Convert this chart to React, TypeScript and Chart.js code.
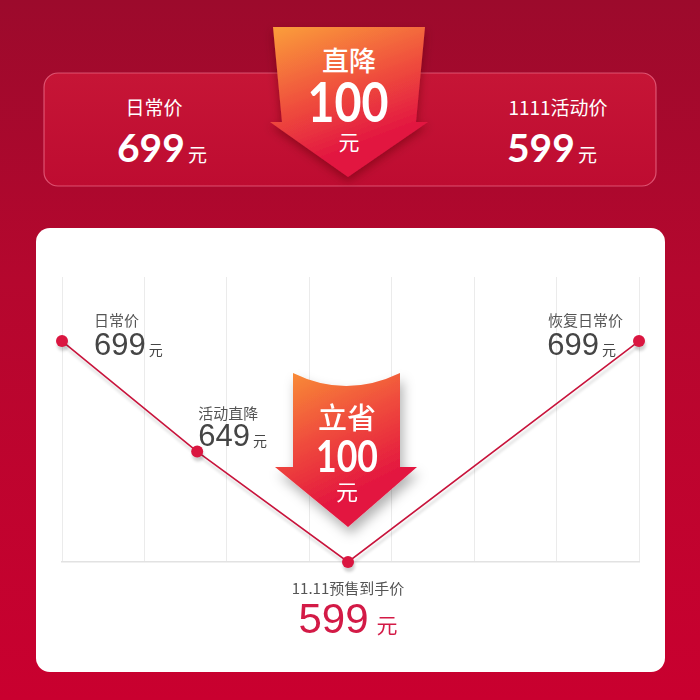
import React, { useEffect, useRef } from 'react';
import { Chart, registerables } from 'chart.js';

Chart.register(...registerables);

// ---- data ----
const stageLabels = ['日常价', '活动直降', '11.11预售到手价', '恢复日常价'];
const stagePrices = [699, 649, 599, 699];
const stagePositions = [0, 1.64, 3.47, 7];
const summaryLabels = ['日常价', '1111活动价'];
const summaryPrices = [699, 599];
const dropLabels = ['直降', '立省'];
const dropAmount = 100;
const unitText = '元';

const CJK = '"Noto Sans CJK SC", "Noto Sans", sans-serif';
const NUM = '"Liberation Sans", Arial, sans-serif';
const BOLDNUM = 'Lato, "Open Sans", sans-serif';

// label placement relative to each point (style, not data)
const labelLayout: any[] = [
  { align: 'left', dx: 32, priceDx: 32, titleDy: -15, priceDy: 14, big: false },
  { align: 'left', dx: 1, priceDx: 1, titleDy: -33, priceDy: -6, big: false },
  { align: 'center', dx: 0, priceDx: 0, titleDy: 32, priceDy: 71, big: true },
  { align: 'right', dx: -16, priceDx: -23, titleDy: -15, priceDy: 14, big: false },
];

const labelPlugin = {
  id: 'stageLabels',
  afterDatasetsDraw(chart: any) {
    const ctx = chart.ctx;
    const meta = chart.getDatasetMeta(0);
    meta.data.forEach((pt: any, i: number) => {
      const L = labelLayout[i];
      const { x, y } = pt.getProps(['x', 'y'], true);
      ctx.save();
      ctx.textBaseline = 'alphabetic';
      ctx.font = `15px ${CJK}`;
      ctx.fillStyle = '#555555';
      ctx.textAlign = L.align;
      ctx.fillText(stageLabels[i], x + L.dx, y + L.titleDy);

      const numFont = L.big ? `42px ${NUM}` : `31px ${NUM}`;
      const unitFont = L.big ? `21px ${CJK}` : `14px ${CJK}`;
      const gap = L.big ? 8 : 3;
      const numStr = String(chart.data.datasets[0].data[i].y);
      ctx.font = numFont;
      const nw = ctx.measureText(numStr).width;
      ctx.font = unitFont;
      const uw = ctx.measureText(unitText).width;
      const total = nw + gap + uw;
      const anchor = x + L.priceDx;
      const left = L.align === 'left' ? anchor : L.align === 'center' ? anchor - total / 2 : anchor - total;
      ctx.textAlign = 'left';
      ctx.fillStyle = L.big ? '#d31a46' : '#454545';
      ctx.font = numFont;
      ctx.fillText(numStr, left, y + L.priceDy);
      ctx.font = unitFont;
      ctx.fillText(unitText, left + nw + gap, y + L.priceDy);
      ctx.restore();
    });
  },
};

const shadowPlugin = {
  id: 'lineShadow',
  beforeDatasetDraw(chart: any) {
    const c = chart.ctx;
    c.save();
    c.shadowColor = 'rgba(0,0,0,0.18)';
    c.shadowBlur = 3;
    c.shadowOffsetX = 1;
    c.shadowOffsetY = 4;
  },
  afterDatasetDraw(chart: any) {
    chart.ctx.restore();
  },
};

function PriceChart() {
  const ref = useRef<HTMLCanvasElement | null>(null);
  useEffect(() => {
    if (!ref.current) return;
    const chart = new Chart(ref.current, {
      type: 'line',
      data: {
        datasets: [
          {
            data: stagePositions.map((x, i) => ({ x, y: stagePrices[i] })),
            borderColor: '#c8143c',
            borderWidth: 1.6,
            pointRadius: 6,
            pointBackgroundColor: '#da1640',
            pointBorderWidth: 0,
            tension: 0,
            clip: false as any,
          } as any,
        ],
      },
      options: {
        animation: false,
        responsive: false,
        maintainAspectRatio: false,
        layout: { padding: { left: 62, right: 61, top: 277, bottom: 138 } },
        plugins: { legend: { display: false }, tooltip: { enabled: false } },
        scales: {
          x: {
            type: 'linear',
            min: 0,
            max: 7,
            ticks: { display: false, stepSize: 1 },
            grid: { color: '#ebebeb', lineWidth: 1, drawTicks: false },
            border: { display: true, color: '#e2e2e2', width: 1.5 },
          },
          y: { display: false, min: 599, max: 728 },
        },
      },
      plugins: [shadowPlugin, labelPlugin],
    });
    return () => chart.destroy();
  }, []);
  return (
    <canvas
      ref={ref}
      width={700}
      height={700}
      style={{ position: 'absolute', left: 0, top: 0, width: 700, height: 700 }}
    />
  );
}

export default function App() {
  return (
    <div style={{ position: 'absolute', left: 0, top: 0, width: 700, height: 700, overflow: 'hidden' }}>
      <svg width={700} height={700} style={{ position: 'absolute', left: 0, top: 0 }}>
        <defs>
          <linearGradient id="bg" x1="0" y1="0" x2="0" y2="1">
            <stop offset="0" stopColor="#9c0a2c" />
            <stop offset="0.4" stopColor="#b5072e" />
            <stop offset="1" stopColor="#c9002f" />
          </linearGradient>
          <linearGradient id="panel" x1="0" y1="0" x2="0" y2="1">
            <stop offset="0" stopColor="#c61536" />
            <stop offset="1" stopColor="#be0c31" />
          </linearGradient>
          <linearGradient id="arrowTop" x1="0.1" y1="0" x2="0.5" y2="1">
            <stop offset="0" stopColor="#fa9a3a" />
            <stop offset="0.45" stopColor="#f0523d" />
            <stop offset="0.85" stopColor="#e21541" />
          </linearGradient>
          <filter id="shadowTop" x="-30%" y="-30%" width="160%" height="160%">
            <feDropShadow dx="0" dy="4" stdDeviation="5" floodColor="#500010" floodOpacity="0.45" />
          </filter>
        </defs>
        <rect x={0} y={0} width={700} height={700} fill="url(#bg)" />
        <rect
          x={44}
          y={73}
          width={612}
          height={113}
          rx={14}
          fill="url(#panel)"
          stroke="rgba(255,140,165,0.55)"
          strokeWidth={1.2}
        />
        <text x={154} y={115} fill="#fff" fontSize={19} textAnchor="middle" style={{ fontFamily: CJK }}>
          {summaryLabels[0]}
        </text>
        <text x={117} y={162} fill="#fff" style={{ fontFamily: BOLDNUM }}>
          <tspan fontSize={39} fontWeight="bold">{summaryPrices[0]}</tspan>
          <tspan fontSize={19} dx={3} style={{ fontFamily: CJK }}>{unitText}</tspan>
        </text>
        <text x={558} y={115} fill="#fff" fontSize={19} textAnchor="middle" style={{ fontFamily: CJK }}>
          {summaryLabels[1]}
        </text>
        <text x={507} y={162} fill="#fff" style={{ fontFamily: BOLDNUM }}>
          <tspan fontSize={39} fontWeight="bold">{summaryPrices[1]}</tspan>
          <tspan fontSize={19} dx={3} style={{ fontFamily: CJK }}>{unitText}</tspan>
        </text>
        <path
          d="M273,27 L425,27 L416,122 L428,122 L348,177 L270,122 L282,122 Z"
          fill="url(#arrowTop)"
          filter="url(#shadowTop)"
        />
        <text x={349} y={71} fill="#fff" fontSize={27} fontWeight={500} textAnchor="middle" style={{ fontFamily: CJK }}>
          {dropLabels[0]}
        </text>
        <text
          x={348}
          y={122}
          fill="#fff"
          fontSize={55}
          fontWeight="bold"
          textAnchor="middle"
          textLength={81}
          lengthAdjust="spacingAndGlyphs"
          style={{ fontFamily: BOLDNUM }}
        >
          {dropAmount}
        </text>
        <text x={349} y={150} fill="#fff" fontSize={21} textAnchor="middle" style={{ fontFamily: CJK }}>
          {unitText}
        </text>
        <rect x={36} y={228} width={629} height={444} rx={14} fill="#ffffff" />
      </svg>
      <PriceChart />
      <svg width={700} height={700} style={{ position: 'absolute', left: 0, top: 0, pointerEvents: 'none' }}>
        <defs>
          <linearGradient id="arrowCard" x1="0.05" y1="0" x2="0.5" y2="1">
            <stop offset="0" stopColor="#f98f36" />
            <stop offset="0.45" stopColor="#ef4a3d" />
            <stop offset="0.85" stopColor="#e3153f" />
          </linearGradient>
          <filter id="shadowCard" x="-40%" y="-30%" width="180%" height="170%">
            <feDropShadow dx="3" dy="7" stdDeviation="6" floodColor="#000" floodOpacity="0.3" />
          </filter>
        </defs>
        <path
          d="M293,373 Q346,399 400,373 L400,467 L417,467 L348,527 L275,467 L293,467 Z"
          fill="url(#arrowCard)"
          filter="url(#shadowCard)"
        />
        <text x={347} y={429} fill="#fff" fontSize={29} fontWeight={500} textAnchor="middle" style={{ fontFamily: CJK }}>
          {dropLabels[1]}
        </text>
        <text
          x={347}
          y={472}
          fill="#fff"
          fontSize={44}
          fontWeight="bold"
          textAnchor="middle"
          textLength={62}
          lengthAdjust="spacingAndGlyphs"
          style={{ fontFamily: BOLDNUM }}
        >
          {dropAmount}
        </text>
        <text x={347} y={500} fill="#fff" fontSize={22} textAnchor="middle" style={{ fontFamily: CJK }}>
          {unitText}
        </text>
      </svg>
    </div>
  );
}
